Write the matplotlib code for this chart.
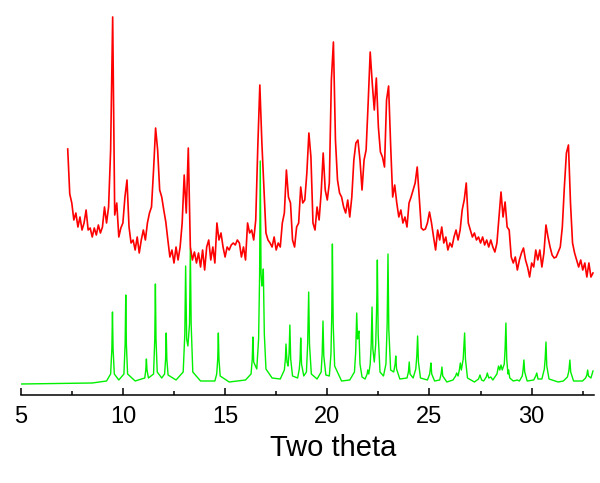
import numpy as np
import matplotlib
matplotlib.use("Agg")
from matplotlib import pyplot as plt
from matplotlib.ticker import MultipleLocator

plt.rcParams['font.family'] = ['Liberation Sans', 'DejaVu Sans']

# measured pattern (red): start, step and intensities
red_start = 7.3
red_step = 0.1
red_counts = [
    235, 190, 181, 164, 171, 157, 167, 154, 161, 174,   # 7.3 - 8.2
    154, 156, 147, 156, 149, 159, 151, 157, 177, 161,   # 8.3 - 9.2
    177, 234, 367, 169, 181, 147, 156, 161, 187, 204,   # 9.3 - 10.2
    157, 141, 144, 134, 147, 131, 144, 154, 144, 161,   # 10.3 - 11.2
    171, 177, 214, 256, 234, 194, 187, 174, 162, 144,   # 11.3 - 12.2
    127, 134, 121, 137, 124, 137, 161, 209, 171, 236,   # 12.3 - 13.2
    137, 124, 132, 121, 131, 117, 134, 114, 137, 144,   # 13.3 - 14.2
    124, 137, 121, 161, 144, 151, 137, 127, 137, 134,   # 14.3 - 15.2
    139, 141, 139, 144, 141, 127, 137, 124, 161, 151,   # 15.3 - 16.2
    154, 144, 164, 237, 299, 241, 197, 151, 144, 141,   # 16.3 - 17.2
    137, 147, 134, 141, 137, 161, 171, 214, 187, 181,   # 17.3 - 18.2
    144, 137, 157, 161, 197, 181, 184, 211, 251, 227,   # 18.3 - 19.2
    161, 154, 177, 164, 191, 231, 194, 184, 201, 304,   # 19.3 - 20.2
    342, 244, 204, 191, 187, 177, 171, 184, 167, 187,   # 20.3 - 21.2
    224, 241, 244, 224, 194, 224, 234, 281, 332, 301,   # 21.3 - 22.2
    274, 306, 257, 232, 227, 217, 284, 298, 239, 187,   # 22.3 - 23.2
    199, 181, 167, 174, 161, 167, 157, 181, 187, 194,   # 23.3 - 24.2
    201, 217, 187, 156, 154, 155, 161, 172, 161, 147,   # 24.3 - 25.2
    134, 154, 144, 157, 141, 147, 134, 141, 137, 147,   # 25.3 - 26.2
    154, 144, 154, 174, 184, 201, 161, 154, 147, 151,   # 26.3 - 27.2
    144, 147, 141, 147, 139, 144, 137, 144, 137, 132,   # 27.3 - 28.2
    141, 167, 192, 167, 182, 157, 154, 127, 121, 127,   # 28.3 - 29.2
    114, 124, 131, 136, 124, 117, 107, 121, 117, 134,   # 29.3 - 30.2
    124, 134, 117, 131, 159, 147, 137, 129, 126, 127,   # 30.3 - 31.2
    132, 137, 157, 197, 231, 239, 181, 141, 131, 124,   # 31.3 - 32.2
    117, 124, 114, 121, 107, 121, 107, 111,             # 32.3 - 33.0
]
red_theta = red_start + red_step * np.arange(len(red_counts))

# simulated pattern (green)
green_theta = [
    5.0, 8.5, 9.2, 9.40, 9.46, 9.49, 9.52, 9.58, 9.8,
    10.05, 10.11, 10.14, 10.17, 10.23, 10.6,
    11.07, 11.12, 11.15, 11.18, 11.25, 11.5, 11.56, 11.59, 11.62, 11.68, 11.9,
    12.04, 12.09, 12.12, 12.15, 12.21, 12.6,
    12.95, 13.03, 13.07, 13.12, 13.18, 13.26, 13.30, 13.34, 13.42, 13.8,
    14.5, 14.59, 14.64, 14.67, 14.70, 14.76, 15.2,
    16.0, 16.27, 16.33, 16.36, 16.40, 16.55, 16.64, 16.69, 16.72, 16.76, 16.80,
    16.84, 16.87, 16.92, 17.0, 17.3, 17.7,
    17.9, 17.95, 17.98, 18.03, 18.08, 18.13, 18.17, 18.21, 18.30, 18.55,
    18.63, 18.67, 18.70, 18.74, 18.85, 18.98, 19.04, 19.09, 19.13, 19.22, 19.5,
    19.70, 19.75, 19.79, 19.83, 19.93, 20.1, 20.18, 20.22, 20.25, 20.29, 20.36, 20.7,
    21.1, 21.33, 21.39, 21.44, 21.48, 21.52, 21.55, 21.60, 21.7, 21.85,
    21.95, 21.98, 22.03, 22.10, 22.15, 22.19, 22.23, 22.30, 22.37, 22.42, 22.45,
    22.49, 22.58, 22.75, 22.87, 22.93, 22.97, 23.01, 23.10, 23.25, 23.32, 23.35,
    23.39, 23.55, 23.9, 23.97, 24.01, 24.05, 24.2, 24.33, 24.38, 24.42, 24.46,
    24.56, 24.9, 25.01, 25.04, 25.07, 25.11, 25.25, 25.5, 25.57, 25.61, 25.65,
    25.85, 26.15, 26.28, 26.33, 26.40, 26.47, 26.51, 26.56, 26.65, 26.69, 26.72,
    26.76, 26.86, 27.2, 27.40, 27.47, 27.55, 27.65, 27.78, 27.83, 27.9, 28.0,
    28.1, 28.3, 28.38, 28.44, 28.50, 28.56, 28.66, 28.70, 28.74, 28.78, 28.84,
    28.87, 28.93, 29.1, 29.30, 29.4, 29.54, 29.58, 29.62, 29.66, 29.78, 30.1,
    30.20, 30.25, 30.31, 30.5, 30.62, 30.66, 30.70, 30.74, 30.85, 31.3, 31.55,
    31.75, 31.82, 31.87, 31.91, 32.05, 32.49, 32.64, 32.70, 32.74, 32.78, 32.9,
    33.0,
]
green_counts = [
    0, 1, 3, 10, 35, 72, 35, 10, 4,
    10, 40, 89, 40, 10, 3,
    6, 14, 25, 14, 6, 10, 45, 100, 45, 12, 6,
    10, 25, 51, 25, 9, 4,
    12, 50, 118, 45, 38, 60, 136, 60, 12, 3,
    3, 10, 25, 51, 25, 8, 2,
    4, 10, 25, 47, 22, 15, 45, 110, 223, 110, 98,
    100, 115, 50, 15, 6, 5,
    14, 25, 40, 22, 18, 30, 59, 25, 8, 6,
    15, 25, 46, 20, 8, 12, 40, 92, 40, 10, 5,
    12, 30, 63, 28, 9, 8, 30, 70, 140, 60, 18, 3,
    4, 12, 32, 71, 45, 50, 53, 20, 7, 5,
    10, 14, 10, 20, 40, 77, 35, 22, 40, 80, 124,
    50, 12, 8, 20, 60, 130, 55, 14, 12, 20, 28,
    15, 5, 6, 12, 22, 10, 6, 15, 28, 48, 22,
    6, 4, 10, 15, 21, 10, 3, 4, 10, 17, 8,
    2, 4, 8, 11, 8, 15, 21, 14, 25, 40, 51,
    25, 6, 2, 5, 9, 4, 3, 7, 11, 6, 7,
    4, 10, 18, 14, 19, 14, 20, 35, 61, 25, 10,
    14, 6, 3, 4, 3, 8, 14, 24, 12, 3, 4,
    8, 11, 5, 5, 15, 25, 42, 18, 5, 2, 3,
    7, 13, 24, 12, 3, 3, 6, 9, 14, 8, 6,
    13,
]

fig = plt.figure(figsize=(6.0, 4.83), dpi=100)
ax = fig.add_axes([20.7 / 600, 88 / 483, 573.3 / 600, 395 / 483])

ax.plot(green_theta, green_counts, color='#00f000', lw=1.0)
ax.plot(red_theta, red_counts, color='#ff0000', lw=1.2)

ax.set_xlim(5, 33.05)
ax.set_ylim(-11, 384)

for side in ['left', 'right', 'top']:
    ax.spines[side].set_visible(False)
ax.spines['bottom'].set_linewidth(1.1)
ax.set_yticks([])

ax.xaxis.set_major_locator(MultipleLocator(5))
ax.xaxis.set_minor_locator(MultipleLocator(2.5))
ax.tick_params(axis='x', which='major', direction='in', length=5, width=1.1,
               labelsize=17, pad=8)
ax.tick_params(axis='x', which='minor', direction='in', length=3, width=1.1)
ax.set_xlabel('Two theta', fontsize=21, labelpad=7)
ax.xaxis.set_label_coords(0.545, -0.1)

fig.savefig('out.png', dpi=100)
